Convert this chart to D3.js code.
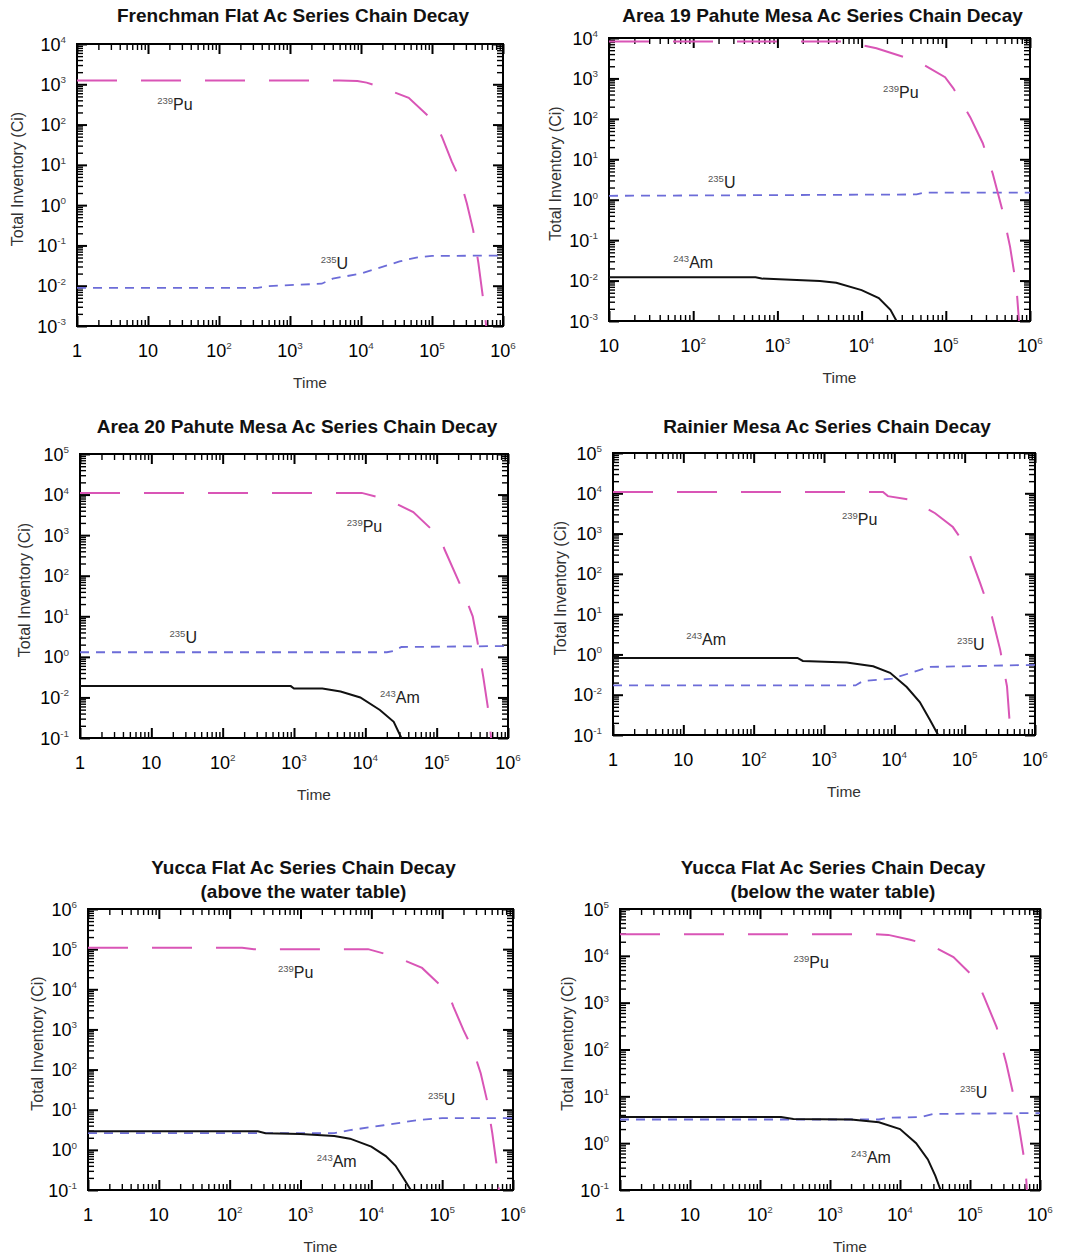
<!DOCTYPE html>
<html>
<head>
<meta charset="utf-8">
<script src="https://cdn.jsdelivr.net/npm/d3@7"></script>
<style>
  body { margin: 0; background: #fff; }
  svg { display: block; font-family: "Liberation Sans", Arial, Helvetica, sans-serif; }
</style>
</head>
<body>
<svg id="chart"></svg>
<script>
// ---- titles
const titles = [
    ["Frenchman Flat Ac Series Chain Decay"],
    ["Area 19 Pahute Mesa Ac Series Chain Decay"],
    ["Area 20 Pahute Mesa Ac Series Chain Decay"],
    ["Rainier Mesa Ac Series Chain Decay"],
    ["Yucca Flat Ac Series Chain Decay", "(above the water table)"],
    ["Yucca Flat Ac Series Chain Decay", "(below the water table)"]
];

// ---- tick labels (bottom -> top for y, left -> right for x)
const xLabelsFrom1 = ["1", "10", "10^2", "10^3", "10^4", "10^5", "10^6"];
const xLabelsFrom10 = ["10", "10^2", "10^3", "10^4", "10^5", "10^6"];
const yLabelsM3to4 = ["10^-3", "10^-2", "10^-1", "10^0", "10^1", "10^2", "10^3", "10^4"];
// as printed in the source figure (the two lowest labels are swapped there)
const yLabelsOddTo5 = ["10^-1", "10^-2", "10^0", "10^1", "10^2", "10^3", "10^4", "10^5"];
const yLabelsM1to6 = ["10^-1", "10^0", "10^1", "10^2", "10^3", "10^4", "10^5", "10^6"];
const yLabelsM1to5 = ["10^-1", "10^0", "10^1", "10^2", "10^3", "10^4", "10^5"];

// ---- series: [time, total inventory (Ci)]
const ffPu = [[1,1250],[5000,1250],[8900,1200],[1.2e4,1100],[2e4,820],[4.7e4,460],[1.1e5,115],[1.4e5,47],[1.9e5,12],[2.5e5,4.2],[3.1e5,1.1],[3.8e5,0.24],[4.5e5,0.037],[5.2e5,0.0053],[5.8e5,0.001]];
const ffU = [[1,0.0088],[350,0.0088],[500,0.0098],[2800,0.0112],[4000,0.015],[1e4,0.02],[3.5e4,0.04],[6e4,0.05],[1e5,0.055],[1e6,0.056]];

const a19Pu = [[10,8200],[6000,8200],[1.5e4,5600],[4.7e4,2600],[9.8e4,1070],[1.23e5,570],[1.95e5,110],[2.75e5,25],[3.6e5,4.5],[4.7e5,0.55],[5.8e5,0.068],[6.9e5,0.007],[7.4e5,0.001]];
const a19U = [[10,1.25],[1000,1.3],[4.5e4,1.35],[5.5e4,1.5],[1e6,1.5]];
const a19Am = [[10,0.012],[550,0.012],[650,0.0112],[3200,0.0098],[5000,0.0088],[1e4,0.0058],[1.6e4,0.0037],[2.2e4,0.0019],[2.6e4,0.001]];

const a20Pu = [[1,1.1e4],[8900,1.1e4],[2.1e4,7400],[4.7e4,3700],[1.1e5,900],[1.3e5,430],[2.3e5,45],[3.2e5,10],[3.7e5,2.6],[4.5e5,0.32],[5.2e5,0.059],[5.8e5,0.01]];
const a20U = [[1,1.3],[2e4,1.3],[2.5e4,1.4],[3.2e4,1.75],[1e6,1.85]];
const a20Am = [[1,0.19],[900,0.19],[1000,0.165],[2500,0.165],[4500,0.14],[8500,0.1],[1.6e4,0.049],[2.5e4,0.025],[3.2e4,0.01]];

const rmPu = [[1,1.07e4],[6900,1.07e4],[8100,8500],[1.8e4,6800],[3.8e4,3200],[6.8e4,1450],[1.07e5,470],[1.66e5,59],[2.45e5,8.5],[3.2e5,1.3],[4e5,0.16],[4.5e5,0.01]];
const rmU = [[1,0.17],[2800,0.17],[3600,0.22],[9300,0.25],[3.2e4,0.49],[1e6,0.55]];
const rmAm = [[1,0.82],[420,0.82],[500,0.69],[2100,0.63],[5000,0.51],[8700,0.35],[1.5e4,0.155],[2.3e4,0.066],[3.2e4,0.024],[4.2e4,0.01]];

const yfaPu = [[1,1.08e5],[150,1.08e5],[220,1.0e5],[9000,1.0e5],[2.3e4,6.3e4],[5.2e4,3.4e4],[1.2e5,8500],[1.45e5,3600],[2e5,960],[2.75e5,300],[3.5e5,81],[4.3e5,17],[5.1e5,2.6],[6e5,0.32],[6.3e5,0.1]];
const yfaU = [[1,2.6],[3000,2.6],[5000,3.1],[1.5e4,4.1],[4.5e4,5.5],[1e5,6.2],[1e6,6.2]];
const yfaAm = [[1,2.9],[250,2.9],[320,2.6],[1000,2.5],[3000,2.2],[5000,1.9],[1e4,1.2],[1.6e4,0.7],[2.2e4,0.4],[3e4,0.17],[3.6e4,0.1]];

const yfbPu = [[1,2.9e4],[4500,2.9e4],[6800,2.8e4],[1.4e4,2.2e4],[2.7e4,1.7e4],[5.8e4,9400],[1.26e5,3000],[1.6e5,1300],[2.4e5,300],[3.3e5,51],[4.1e5,12],[5.1e5,1.9],[6.2e5,0.31],[6.5e5,0.1]];
const yfbU = [[1,3.2],[5000,3.2],[7000,3.5],[2e4,3.6],[3e4,4.2],[1e6,4.4]];
const yfbAm = [[1,3.6],[200,3.6],[300,3.3],[2000,3.2],[5000,2.8],[1e4,2.0],[1.7e4,1.0],[2.5e4,0.45],[3.2e4,0.2],[3.8e4,0.1]];

// ---- isotope labels: [iso, name, time, inventory] (anchor = baseline start)
const ffNotes = [["239","Pu",13.5,230],["235","U",2700,0.026]];
const a19Notes = [["239","Pu",1.8e4,325],["235","U",150,2.0],["243","Am",58,0.021]];
const a20Notes = [["239","Pu",5500,1200],["235","U",18,2.2],["243","Am",1.6e4,0.074]];
const rmNotes = [["239","Pu",1800,1600],["243","Am",11,1.7],["235","U",7.8e4,1.3]];
const yfaNotes = [["239","Pu",480,1.9e4],["235","U",6.3e4,13],["243","Am",1700,0.37]];
const yfbNotes = [["239","Pu",300,5500],["235","U",7.2e4,9],["243","Am",2000,0.37]];

// ---- panel table built from the arrays above
const panels = [
    {title: titles[0], x: [1,1e6], y: [1e-3,1e4], xl: xLabelsFrom1, yl: yLabelsM3to4, series: {pu: ffPu, u: ffU}, notes: ffNotes},
    {title: titles[1], x: [10,1e6], y: [1e-3,1e4], xl: xLabelsFrom10, yl: yLabelsM3to4, series: {pu: a19Pu, u: a19U, am: a19Am}, notes: a19Notes},
    {title: titles[2], x: [1,1e6], y: [1e-2,1e5], xl: xLabelsFrom1, yl: yLabelsOddTo5, series: {pu: a20Pu, u: a20U, am: a20Am}, notes: a20Notes},
    {title: titles[3], x: [1,1e6], y: [1e-2,1e5], xl: xLabelsFrom1, yl: yLabelsOddTo5, series: {pu: rmPu, u: rmU, am: rmAm}, notes: rmNotes},
    {title: titles[4], x: [1,1e6], y: [1e-1,1e6], xl: xLabelsFrom1, yl: yLabelsM1to6, series: {pu: yfaPu, u: yfaU, am: yfaAm}, notes: yfaNotes},
    {title: titles[5], x: [1,1e6], y: [1e-1,1e5], xl: xLabelsFrom1, yl: yLabelsM1to5, series: {pu: yfbPu, u: yfbU, am: yfbAm}, notes: yfbNotes}
];

// plot boxes on the page
const layout = [
    {left: 77, top: 44, right: 503, bottom: 326, titleY: 22, yOff: 58},
    {left: 609, top: 38, right: 1030, bottom: 321, titleY: 22, yOff: 52},
    {left: 80, top: 454, right: 508, bottom: 738, titleY: 433, yOff: 54},
    {left: 613, top: 453, right: 1035, bottom: 735, titleY: 433, yOff: 51},
    {left: 88, top: 909, right: 513, bottom: 1190, titleY: 874, yOff: 49},
    {left: 620, top: 909, right: 1040, bottom: 1190, titleY: 874, yOff: 51}
];

const styles = {
    pu: {stroke: "#d955b6", width: 2, dash: "40,24"},
    u: {stroke: "#6c6cd8", width: 1.8, dash: "9,7"},
    am: {stroke: "#111", width: 2, dash: null}
};

const svg = d3.select("#chart").attr("width", 1067).attr("height", 1257);

// writes "10^x" as 10 with a superscript
function powerText(sel, str, size) {
    const parts = str.split("^");
    sel.append("tspan").text(parts[0]).attr("font-size", size);
    if (parts.length > 1) {
        sel.append("tspan").text(parts[1])
            .attr("font-size", size * 0.55)
            .attr("fill", "#444")
            .attr("dy", -size * 0.42);
    }
}

function drawPanel(p, L, idx) {
    const w = L.right - L.left, h = L.bottom - L.top;
    const g = svg.append("g").attr("transform", `translate(${L.left},${L.top})`);

    const x = d3.scaleLog().domain(p.x).range([0, w]);
    const y = d3.scaleLog().domain(p.y).range([h, 0]);

    // clip for curves
    const clipId = "clip" + idx;
    g.append("clipPath").attr("id", clipId)
        .append("rect").attr("width", w).attr("height", h);

    // title
    p.title.forEach((t, k) => {
        svg.append("text")
            .attr("x", L.left + w / 2 + 3)
            .attr("y", L.titleY + k * 24)
            .attr("text-anchor", "middle")
            .attr("font-size", 19)
            .attr("font-weight", "bold")
            .attr("fill", "#111")
            .text(t);
    });

    // ticks, all pointing inwards, on four sides
    const isMajor = v => Math.abs(Math.log10(v) - Math.round(Math.log10(v))) < 1e-9;
    const xt = x.ticks(), yt = y.ticks();
    const xMaj = xt.filter(isMajor), xMin = xt.filter(v => !isMajor(v));
    const yMaj = yt.filter(isMajor), yMin = yt.filter(v => !isMajor(v));

    const axes = [
        [d3.axisBottom(x), `translate(0,${h})`, xMaj, xMin],
        [d3.axisTop(x), null, xMaj, xMin],
        [d3.axisLeft(y), null, yMaj, yMin],
        [d3.axisRight(y), `translate(${w},0)`, yMaj, yMin]
    ];
    axes.forEach(([ax, tr, maj, min]) => {
        [[maj, 10, 2], [min, 6, 1.4]].forEach(([vals, len, sw]) => {
            const a = g.append("g")
                .attr("transform", tr)
                .call(ax.tickValues(vals).tickSize(-len).tickFormat(""));
            a.select(".domain").remove();
            a.selectAll("line").attr("stroke", "#000").attr("stroke-width", sw);
        });
    });

    // frame
    g.append("rect").attr("width", w).attr("height", h)
        .attr("fill", "none").attr("stroke", "#000").attr("stroke-width", 2);

    // x tick labels
    xMaj.forEach((v, k) => {
        const t = g.append("text")
            .attr("x", x(v)).attr("y", h + 31)
            .attr("text-anchor", "middle").attr("fill", "#000");
        powerText(t, p.xl[k], 18);
    });
    // y tick labels
    yMaj.forEach((v, k) => {
        const t = g.append("text")
            .attr("x", -11).attr("y", y(v) + 6.5)
            .attr("text-anchor", "end").attr("fill", "#000");
        powerText(t, p.yl[k], 18);
    });

    // axis titles
    g.append("text")
        .attr("x", w / 2 + 20).attr("y", h + 62)
        .attr("text-anchor", "middle").attr("font-size", 15.5).attr("fill", "#333")
        .text("Time");
    g.append("text")
        .attr("transform", `translate(${-L.yOff},${h / 2 - 6}) rotate(-90)`)
        .attr("text-anchor", "middle").attr("dominant-baseline", "middle")
        .attr("font-size", 16).attr("fill", "#333")
        .text("Total Inventory (Ci)");

    // curves
    const line = d3.line().x(d => x(d[0])).y(d => y(d[1]));
    const curves = g.append("g").attr("clip-path", `url(#${clipId})`);
    ["u", "pu", "am"].forEach(key => {
        const data = p.series[key];
        if (!data) return;
        const s = styles[key];
        curves.append("path")
            .datum(data)
            .attr("d", line)
            .attr("fill", "none")
            .attr("stroke", s.stroke)
            .attr("stroke-width", s.width)
            .attr("stroke-dasharray", s.dash);
    });

    // isotope labels
    p.notes.forEach(n => {
        const t = g.append("text")
            .attr("x", x(n[2])).attr("y", y(n[3]))
            .attr("fill", "#222");
        t.append("tspan").text(n[0]).attr("font-size", 9.5).attr("dy", -6).attr("fill", "#555");
        t.append("tspan").text(n[1]).attr("font-size", 16).attr("dy", 6);
    });
}

panels.forEach((p, i) => drawPanel(p, layout[i], i));
</script>
</body>
</html>
